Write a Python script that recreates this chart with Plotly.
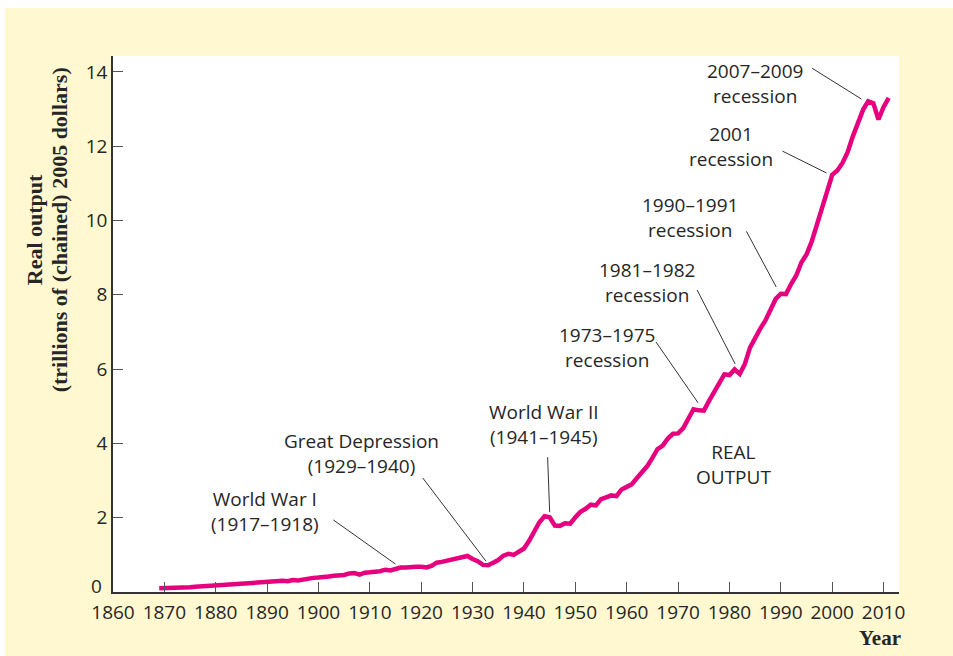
import plotly.graph_objects as go

# Real output of the US economy, trillions of chained 2005 dollars
years = [
    1869,
    1870, 1871, 1872, 1873, 1874, 1875, 1876, 1877, 1878, 1879,
    1880, 1881, 1882, 1883, 1884, 1885, 1886, 1887, 1888, 1889,
    1890, 1891, 1892, 1893, 1894, 1895, 1896, 1897, 1898, 1899,
    1900, 1901, 1902, 1903, 1904, 1905, 1906, 1907, 1908, 1909,
    1910, 1911, 1912, 1913, 1914, 1915, 1916, 1917, 1918, 1919,
    1920, 1921, 1922, 1923, 1924, 1925, 1926, 1927, 1928, 1929,
    1930, 1931, 1932, 1933, 1934, 1935, 1936, 1937, 1938, 1939,
    1940, 1941, 1942, 1943, 1944, 1945, 1946, 1947, 1948, 1949,
    1950, 1951, 1952, 1953, 1954, 1955, 1956, 1957, 1958, 1959,
    1960, 1961, 1962, 1963, 1964, 1965, 1966, 1967, 1968, 1969,
    1970, 1971, 1972, 1973, 1974, 1975, 1976, 1977, 1978, 1979,
    1980, 1981, 1982, 1983, 1984, 1985, 1986, 1987, 1988, 1989,
    1990, 1991, 1992, 1993, 1994, 1995, 1996, 1997, 1998, 1999,
    2000, 2001, 2002, 2003, 2004, 2005, 2006, 2007, 2008, 2009,
    2010, 2011,
]
real_output = [
    0.10,
    0.10, 0.11, 0.11, 0.12, 0.12, 0.13, 0.14, 0.15, 0.16, 0.18,
    0.20, 0.21, 0.22, 0.22, 0.23, 0.23, 0.24, 0.25, 0.25, 0.26,
    0.28, 0.29, 0.31, 0.30, 0.29, 0.32, 0.31, 0.34, 0.35, 0.38,
    0.39, 0.42, 0.42, 0.44, 0.44, 0.46, 0.50, 0.51, 0.47, 0.52,
    0.53, 0.54, 0.56, 0.60, 0.58, 0.62, 0.66, 0.66, 0.68, 0.68,
    0.68, 0.66, 0.70, 0.79, 0.81, 0.84, 0.88, 0.89, 0.91, 0.97,
    0.89, 0.83, 0.73, 0.72, 0.79, 0.86, 0.98, 1.03, 1.00, 1.08,
    1.17, 1.38, 1.62, 1.88, 2.04, 2.01, 1.79, 1.78, 1.85, 1.84,
    2.01, 2.16, 2.24, 2.35, 2.33, 2.50, 2.55, 2.60, 2.58, 2.76,
    2.83, 2.90, 3.07, 3.21, 3.39, 3.61, 3.85, 3.94, 4.13, 4.26,
    4.27, 4.41, 4.65, 4.92, 4.89, 4.88, 5.14, 5.38, 5.68, 5.86,
    5.84, 5.99, 5.87, 6.14, 6.58, 6.85, 7.09, 7.31, 7.61, 7.89,
    8.03, 8.02, 8.29, 8.52, 8.87, 9.09, 9.43, 9.85, 10.28, 10.78,
    11.23, 11.35, 11.55, 11.84, 12.26, 12.64, 12.98, 13.21, 13.16, 12.72,
    13.06, 13.30,
]

y_ticks = [2, 4, 6, 8, 10, 12, 14]

# Event call-outs: label text, label centre, and pointer line ends (data units)
callout_text = [
    "2007–2009<br>recession",
    "2001<br>recession",
    "1990–1991<br>recession",
    "1981–1982<br>recession",
    "1973–1975<br>recession",
    "World War II<br>(1941–1945)",
    "Great Depression<br>(1929–1940)",
    "World War I<br>(1917–1918)",
]
callout_x = [1985.0, 1980.3, 1972.3, 1964.0, 1956.2, 1943.9, 1908.4, 1889.5]
callout_y = [13.69, 11.99, 10.09, 8.34, 6.59, 4.50, 3.74, 2.18]
pointer_x0 = [1996.1, 1990.3, 1983.3, 1973.7, 1965.7, 1944.6, 1920.3, 1902.9]
pointer_y0 = [14.10, 11.87, 9.71, 8.13, 6.73, 3.63, 3.07, 1.94]
pointer_x1 = [2005.7, 1998.9, 1989.1, 1981.1, 1973.9, 1945.0, 1932.6, 1915.0]
pointer_y1 = [13.27, 11.28, 8.21, 6.14, 5.09, 2.15, 0.83, 0.75]

y_title_lines = ["Real output", "(trillions of (chained) 2005 dollars)"]

LINE_COLOR = "#e6007e"
TEXT_COLOR = "#262626"
AXIS_COLOR = "#333333"
SANS = "Open Sans, Noto Sans, sans-serif"
SERIF = "Liberation Serif, DejaVu Serif, serif"

fig = go.Figure()
fig.add_trace(go.Scatter(
    x=years, y=real_output, mode="lines",
    line=dict(color=LINE_COLOR, width=4.5),
    hoverinfo="x+y", showlegend=False,
))

for i, txt in enumerate(callout_text):
    fig.add_annotation(
        x=callout_x[i], y=callout_y[i], xref="x", yref="y",
        text=txt, showarrow=False, align="center",
        font=dict(family=SANS, size=19, color=TEXT_COLOR),
    )
    fig.add_shape(
        type="line", xref="x", yref="y",
        x0=pointer_x0[i], y0=pointer_y0[i], x1=pointer_x1[i], y1=pointer_y1[i],
        line=dict(color=AXIS_COLOR, width=1),
    )

fig.add_annotation(
    x=1980.7, y=3.43, xref="x", yref="y", text="REAL<br>OUTPUT",
    showarrow=False, align="center",
    font=dict(family=SANS, size=19, color=TEXT_COLOR),
)

# the "0" label sits a little above the x axis in the original
fig.add_annotation(
    x=-0.0115, y=0.0112, xref="paper", yref="paper", text="0",
    showarrow=False, xanchor="right", yanchor="middle",
    font=dict(family=SANS, size=19, color=TEXT_COLOR),
)

# y-axis title: two rotated lines, bold serif, set by hand like the original
for line_text, px in zip(y_title_lines, [-0.1005, -0.0685]):
    fig.add_annotation(
        x=px, y=0.675, xref="paper", yref="paper", text=line_text,
        textangle=-90, showarrow=False, xanchor="center", yanchor="middle",
        font=dict(family=SERIF, size=22, color=TEXT_COLOR, weight="bold"),
    )
fig.add_annotation(
    x=1.005, y=-0.086, xref="paper", yref="paper", text="Year",
    showarrow=False, xanchor="right", yanchor="middle",
    font=dict(family=SERIF, size=21, color=TEXT_COLOR, weight="bold"),
)

# white strips around the yellow panel
fig.add_shape(type="rect", xref="paper", yref="paper",
              x0=-0.2, x1=1.2, y0=1.0896, y1=1.2,
              fillcolor="white", line_width=0, layer="below")
fig.add_shape(type="rect", xref="paper", yref="paper",
              x0=-0.2, x1=-0.1374, y0=-0.2, y1=1.2,
              fillcolor="white", line_width=0, layer="below")

fig.update_xaxes(
    range=[1860, 2013], dtick=10, tick0=1860,
    showline=True, linecolor=AXIS_COLOR, linewidth=1.5,
    ticks="inside", ticklen=10, tickwidth=1.2, tickcolor="#555555",
    showgrid=False, zeroline=False, ticklabelstandoff=2,
    tickfont=dict(family=SANS, size=19, color=TEXT_COLOR),
)
fig.update_yaxes(
    range=[0, 14.43], tickvals=y_ticks,
    showline=True, linecolor=AXIS_COLOR, linewidth=1.5,
    ticks="inside", ticklen=10, tickwidth=1.2, tickcolor="#555555",
    showgrid=False, zeroline=False,
    tickfont=dict(family=SANS, size=19, color=TEXT_COLOR),
)

fig.update_layout(
    width=953, height=656,
    margin=dict(l=113, r=54, t=56, b=64),
    paper_bgcolor="#fff8d0",
    plot_bgcolor="white",
    showlegend=False,
)

fig.write_html("out.html", config={"displayModeBar": False},
               post_script="document.body.style.margin='0';")
